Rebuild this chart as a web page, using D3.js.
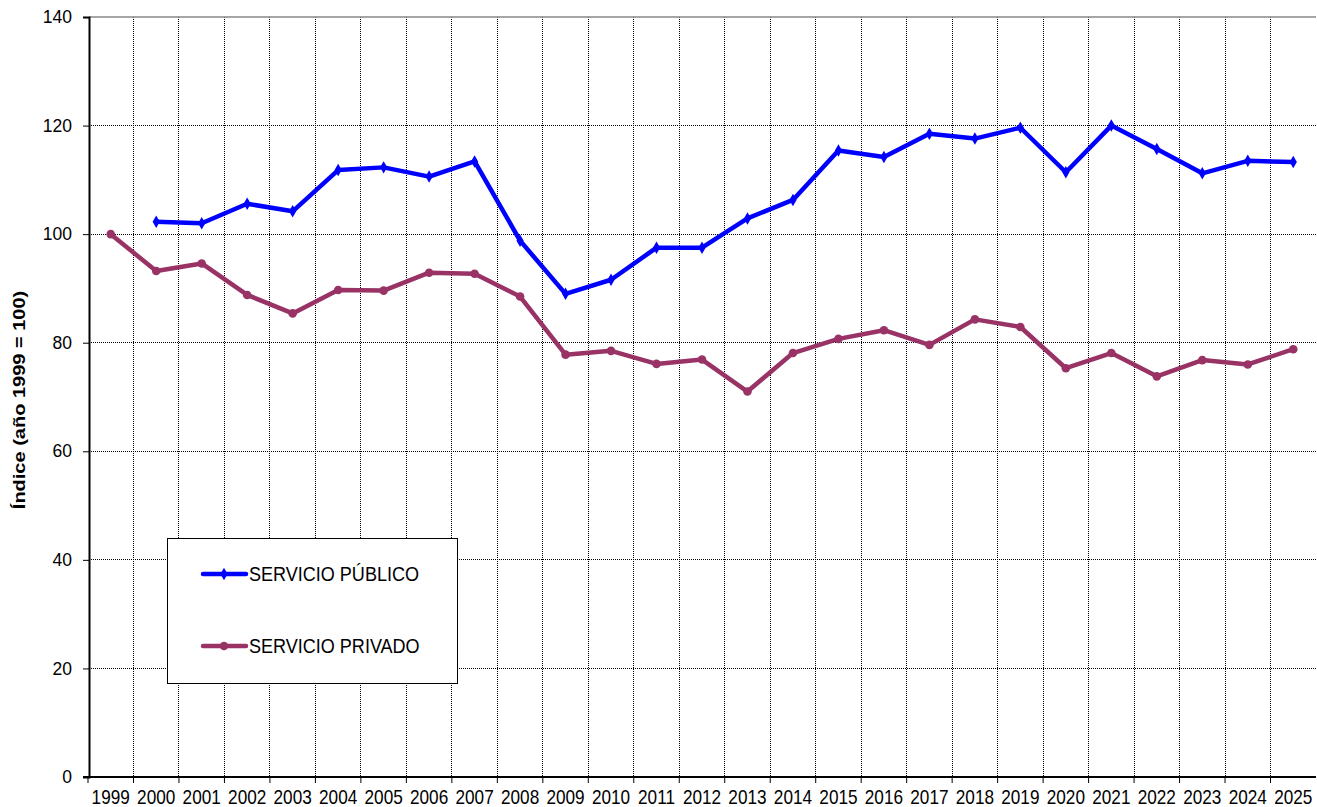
<!DOCTYPE html>
<html>
<head>
<meta charset="utf-8">
<script src="https://cdn.jsdelivr.net/npm/d3@7"></script>
<style>
  html, body { margin: 0; padding: 0; background: #fff; }
  svg { display: block; font-family: "Liberation Sans", Arial, sans-serif; }
</style>
</head>
<body>
<svg id="chart" width="1317" height="807"></svg>
<script>
// Years on the category axis
const years = ["1999","2000","2001","2002","2003","2004","2005","2006","2007","2008","2009",
  "2010","2011","2012","2013","2014","2015","2016","2017","2018","2019","2020","2021","2022",
  "2023","2024","2025"];

// Public service index (series starts in 2000)
const publicYears = years.slice(1);
const publicValues = [102.3, 102.0, 105.6, 104.2, 111.8, 112.3, 110.6, 113.4, 98.8, 89.0,
  91.6, 97.5, 97.5, 102.9, 106.3, 115.4, 114.2, 118.5, 117.6, 119.6, 111.4, 120.0, 115.7,
  111.2, 113.5, 113.3];

// Private service index (base 1999 = 100)
const privateValues = [100.0, 93.2, 94.6, 88.8, 85.4, 89.7, 89.6, 92.9, 92.7, 88.5, 77.8,
  78.5, 76.1, 76.9, 71.0, 78.1, 80.7, 82.3, 79.6, 84.3, 82.9, 75.3, 78.1, 73.8, 76.8, 76.0,
  78.8];

const yTicks = [0, 20, 40, 60, 80, 100, 120, 140];
const seriesNames = ["SERVICIO PÚBLICO", "SERVICIO PRIVADO"];
const colors = ["#0000ff", "#993366"];

const svg = d3.select("#chart");
const m = { left: 89, right: 1316, top: 17, bottom: 777 };

const x = d3.scaleBand().domain(years).range([m.left - 1, m.right]);
const y = d3.scaleLinear().domain([0, 140]).range([m.bottom, m.top]);
const cx = d => x(d) + x.bandwidth() / 2;

// Horizontal gridlines
svg.append("g").selectAll("line").data(yTicks.filter(t => t > 0 && t < 140)).join("line")
  .attr("x1", m.left).attr("x2", m.right)
  .attr("y1", d => y(d)).attr("y2", d => y(d))
  .attr("stroke", "#000").attr("stroke-width", 1).attr("stroke-dasharray", "1,1")
  .attr("shape-rendering", "crispEdges");

// Vertical gridlines at category boundaries
svg.append("g").selectAll("line").data(years.slice(1)).join("line")
  .attr("x1", d => x(d)).attr("x2", d => x(d))
  .attr("y1", m.top).attr("y2", m.bottom)
  .attr("stroke", "#000").attr("stroke-width", 1).attr("stroke-dasharray", "1,1")
  .attr("shape-rendering", "crispEdges");

// Top frame line
svg.append("line").attr("x1", m.left).attr("x2", m.right).attr("y1", m.top).attr("y2", m.top)
  .attr("stroke", "#888").attr("stroke-width", 1.5);

// Y axis
const yAxis = svg.append("g").attr("transform", `translate(${m.left},0)`)
  .call(d3.axisLeft(y).tickValues(yTicks).tickSize(6).tickPadding(11));
yAxis.attr("font-size", 17.5).attr("font-family", "'Liberation Sans', Arial, sans-serif");
yAxis.select(".domain").attr("stroke", "#000").attr("stroke-width", 2);
yAxis.selectAll(".tick line").attr("stroke", "#000");
yAxis.selectAll("text").attr("fill", "#000");

// X axis: ticks at category boundaries, labels centred in each band
const xAxisG = svg.append("g").attr("transform", `translate(0,${m.bottom})`);
xAxisG.append("line").attr("x1", m.left - 6).attr("x2", m.right)
  .attr("stroke", "#000").attr("stroke-width", 2);
xAxisG.selectAll(".bt").data(years).join("line").attr("class", "bt")
  .attr("x1", d => x(d)).attr("x2", d => x(d)).attr("y1", 0).attr("y2", 6)
  .attr("stroke", "#000");
xAxisG.selectAll("text").data(years).join("text")
  .attr("transform", d => `translate(${cx(d)},26.5) scale(0.86,1)`)
  .attr("text-anchor", "middle").attr("font-size", 20).attr("fill", "#000")
  .text(d => d);

// Y axis title
svg.append("text")
  .attr("transform", "translate(25,400) rotate(-90) scale(1,0.86)")
  .attr("text-anchor", "middle").attr("font-size", 20).attr("font-weight", "bold")
  .text("Índice (año 1999 = 100)");

const line = d3.line().x(d => cx(d[0])).y(d => y(d[1]));

const pubData = publicYears.map((yr, i) => [yr, publicValues[i]]);
const privData = years.map((yr, i) => [yr, privateValues[i]]);

// Private series
svg.append("path").datum(privData).attr("d", line)
  .attr("fill", "none").attr("stroke", colors[1]).attr("stroke-width", 4.5)
  .attr("stroke-linejoin", "round");
svg.append("g").selectAll("circle").data(privData).join("circle")
  .attr("cx", d => cx(d[0])).attr("cy", d => y(d[1])).attr("r", 4.3)
  .attr("fill", colors[1]);

// Public series
svg.append("path").datum(pubData).attr("d", line)
  .attr("fill", "none").attr("stroke", colors[0]).attr("stroke-width", 4.5)
  .attr("stroke-linejoin", "round");
const diamond = d3.symbol().type(d3.symbolDiamond).size(45);
svg.append("g").selectAll("path").data(pubData).join("path")
  .attr("transform", d => `translate(${cx(d[0])},${y(d[1])})`)
  .attr("d", diamond).attr("fill", colors[0]);

// Legend
const lg = svg.append("g");
lg.append("rect").attr("x", 167.5).attr("y", 538.5).attr("width", 290).attr("height", 145)
  .attr("fill", "#fff").attr("stroke", "#000").attr("stroke-width", 1);
const legendRows = [574, 646];
seriesNames.forEach((name, i) => {
  const ly = legendRows[i];
  lg.append("line").attr("x1", 203).attr("x2", 246).attr("y1", ly).attr("y2", ly)
    .attr("stroke", colors[i]).attr("stroke-width", 4.5).attr("stroke-linecap", "round");
  if (i === 0) {
    lg.append("path").attr("transform", `translate(224,${ly})`).attr("d", diamond).attr("fill", colors[i]);
  } else {
    lg.append("circle").attr("cx", 224).attr("cy", ly).attr("r", 4.3).attr("fill", colors[i]);
  }
  lg.append("text").attr("transform", `translate(249,${ly + 7}) scale(0.88,1)`)
    .attr("font-size", 20.5).attr("fill", "#000")
    .text(name);
});
</script>
</body>
</html>
